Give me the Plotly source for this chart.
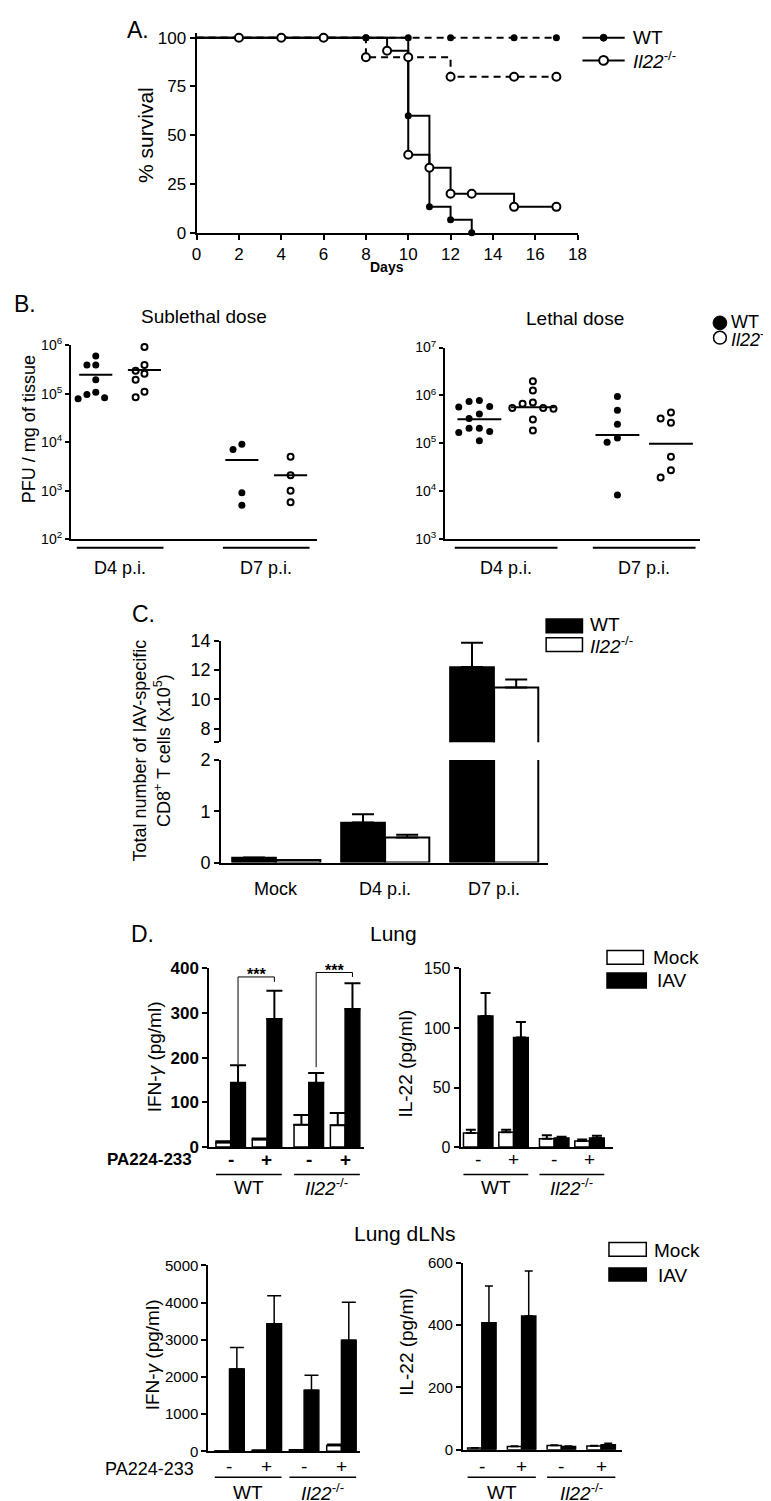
import numpy as np
import plotly.graph_objects as go

W, H = 771, 1501
FONT = "Liberation Sans, Arial, Helvetica, sans-serif"

# ======================= DATA =======================
# ---- Panel A: Kaplan-Meier survival (% survival vs days)
a_wt_sub_days = [0, 8, 10, 12, 15, 17]
a_wt_sub_surv = [100, 100, 100, 100, 100, 100]
a_ko_sub_days = [0, 8, 10, 12, 15, 17]
a_ko_sub_surv = [100, 90, 90, 80, 80, 80]
a_wt_let_days = [0, 8, 10, 11, 12, 13]
a_wt_let_surv = [100, 100, 60, 13.3, 6.7, 0]
a_ko_let_days = [0, 2, 4, 6, 9, 10, 11, 12, 13, 15, 17]
a_ko_let_surv = [100, 100, 100, 100, 93.3, 40, 33.3, 20, 20, 13.3, 13.3]
a_day_ticks = [0, 2, 4, 6, 8, 10, 12, 14, 16, 18]
a_surv_ticks = [0, 25, 50, 75, 100]

# ---- Panel B: PFU / mg of tissue
b_group_labels = ["D4 p.i.", "D7 p.i."]
b_sub_wt_d4 = [6.0e5, 3.9e5, 3.9e5, 1.95e5, 1.07e5, 9.7e4, 8.3e4, 7.9e4]
b_sub_ko_d4 = [9.2e5, 3.9e5, 2.97e5, 2.6e5, 1.95e5, 1.1e5, 8.5e4]
b_sub_wt_d7 = [9.1e3, 7.1e3, 9.1e2, 5.0e2]
b_sub_ko_d7 = [5.0e3, 2.1e3, 1.0e3, 5.8e2]
b_sub_means = [2.46e5, 3.1e5, 4.3e3, 2.1e3]
b_let_wt_d4 = [7.9e5, 7.5e5, 5.9e5, 5.75e5, 4.1e5, 3.3e5, 2.07e5, 2.07e5, 1.77e5, 1.68e5, 1.13e5]
b_let_ko_d4 = [1.97e6, 1.27e6, 7.1e5, 6.7e5, 5.5e5, 5.5e5, 5.3e5, 3.16e5, 1.85e5]
b_let_wt_d7 = [9.5e5, 4.9e5, 2.5e5, 1.29e5, 1.06e5, 8.4e3]
b_let_ko_d7 = [4.4e5, 3.3e5, 2.7e5, 5.25e4, 2.75e4, 1.95e4]
b_let_means = [3.2e5, 5.66e5, 1.5e5, 9.8e4]

# ---- Panel C: IAV-specific CD8+ T cells (x10^5)
c_groups = ["Mock", "D4 p.i.", "D7 p.i."]
c_wt = [0.10, 0.78, 12.2]
c_wt_err = [0.0, 0.16, 1.65]
c_ko = [0.05, 0.49, 10.8]
c_ko_err = [0.0, 0.055, 0.55]

# ---- Panel D: cytokines (pg/ml); order: WT -, WT +, Il22 -, Il22 +
d_treat = ["-", "+", "-", "+"]
d_geno = ["WT", "<i>Il22</i><sup>-/-</sup>"]
lung_ifn_mock = [10, 17, 50, 49]
lung_ifn_mock_err = [3, 2, 22, 27]
lung_ifn_iav = [144, 287, 144, 309]
lung_ifn_iav_err = [39, 63, 22, 58]
lung_sig_low = [186, 179]
lung_sig_high = [381, 391]
lung_sig_tick = [370, 381]
lung_il22_mock = [11.9, 12.4, 6.9, 5.0]
lung_il22_mock_err = [2.7, 2.2, 3.0, 1.4]
lung_il22_iav = [110, 92, 7.7, 7.7]
lung_il22_iav_err = [19.3, 13, 0.9, 1.7]
dln_ifn_mock = [10, 30, 40, 160]
dln_ifn_mock_err = [0, 0, 0, 30]
dln_ifn_iav = [2212, 3434, 1646, 2991]
dln_ifn_iav_err = [584, 752, 398, 1018]
dln_il22_mock = [5, 10, 13, 12]
dln_il22_mock_err = [1, 2, 2, 1]
dln_il22_iav = [408, 429, 10, 16]
dln_il22_iav_err = [118, 145, 2, 5]

# ======================= HELPERS =======================
fig = go.Figure()
layout = dict(width=W, height=H, margin=dict(l=0, r=0, t=0, b=0),
              paper_bgcolor="white", plot_bgcolor="white", showlegend=False,
              barmode="overlay", font=dict(family=FONT, color="black", size=16))
annotations, shapes = [], []


def X(px):
    return px / W


def Y(py):
    return 1 - py / H


def ann(x, y, s, size=17, xa="center", ya="middle", angle=0, xref="paper", yref="paper", yshift=0):
    annotations.append(dict(
        x=X(x) if xref == "paper" else x, y=Y(y) if yref == "paper" else y,
        xref=xref, yref=yref, text=s, showarrow=False, xanchor=xa, yanchor=ya,
        textangle=angle, yshift=yshift, font=dict(family=FONT, size=size, color="black")))


def seg(x0, y0, x1, y1, width=2, xref="paper", yref="paper", dash=None):
    shapes.append(dict(
        type="line", xref=xref, yref=yref,
        x0=X(x0) if xref == "paper" else x0, x1=X(x1) if xref == "paper" else x1,
        y0=Y(y0) if yref == "paper" else y0, y1=Y(y1) if yref == "paper" else y1,
        line=dict(color="black", width=width, dash=dash)))


def circle(cx, cy, r, fill, lw=2):
    shapes.append(dict(type="circle", xref="paper", yref="paper",
                       x0=X(cx - r), x1=X(cx + r), y0=Y(cy + r), y1=Y(cy - r),
                       fillcolor=fill, line=dict(color="black", width=lw)))


def rect(x0, y0, x1, y1, fill, lw=1.5):
    shapes.append(dict(type="rect", xref="paper", yref="paper",
                       x0=X(x0), x1=X(x1), y0=Y(y1), y1=Y(y0),
                       fillcolor=fill, line=dict(color="black", width=lw)))


AXLINE = dict(showline=True, linecolor="black", linewidth=2, showgrid=False,
              zeroline=False, fixedrange=True)
TICKS = dict(ticks="outside", tickcolor="black", tickwidth=2, ticklen=5)


def tf(size=16):
    return dict(family=FONT, size=size, color="black")


# ======================= PANEL A =======================
layout["xaxis"] = dict(domain=[X(187), X(575)], range=[0, 18], anchor="y",
                       tickvals=a_day_ticks, tickfont=tf(17), **AXLINE, **TICKS)
layout["yaxis"] = dict(domain=[Y(217.7), Y(15)], range=[0, 102.5], anchor="x",
                       tickvals=a_surv_ticks, tickfont=tf(17), **AXLINE, **TICKS)

for days, surv, dash in [(a_wt_sub_days, a_wt_sub_surv, "7px,5px"),
                         (a_ko_sub_days, a_ko_sub_surv, "7px,5px"),
                         (a_wt_let_days, a_wt_let_surv, "solid"),
                         (a_ko_let_days, a_ko_let_surv, "solid")]:
    fig.add_trace(go.Scatter(x=days, y=surv, mode="lines", xaxis="x", yaxis="y",
                             line=dict(shape="hv", color="black", width=2, dash=dash),
                             hoverinfo="skip"))
for days, surv in [(a_wt_sub_days, a_wt_sub_surv), (a_wt_let_days, a_wt_let_surv)]:
    fig.add_trace(go.Scatter(x=days[1:], y=surv[1:], mode="markers", xaxis="x", yaxis="y",
                             cliponaxis=False, marker=dict(color="black", size=7)))
for days, surv in [(a_ko_sub_days, a_ko_sub_surv), (a_ko_let_days, a_ko_let_surv)]:
    fig.add_trace(go.Scatter(x=days[1:], y=surv[1:], mode="markers", xaxis="x", yaxis="y",
                             cliponaxis=False,
                             marker=dict(color="white", size=8, line=dict(color="black", width=2))))

ann(127, 12, "A.", size=23)
ann(135, 119, "% survival", size=21, angle=-90)
ann(381, 252, "<b>Days</b>", size=14)
# legend A
seg(580, 20, 623, 20, width=2)
circle(601.5, 20, 3.5, "black", lw=1)
seg(580, 43, 623, 43, width=2)
circle(601.5, 43, 4.5, "white", lw=2)
ann(629, 20, "WT", size=19, xa="left")
ann(629, 43, "<i>Il22</i><sup>-/-</sup>", size=19, xa="left")


# ======================= PANEL B =======================
def swarm(values, decade_px, unit_px, step_px=10.0, dia_px=7.5):
    order = sorted(range(len(values)), key=lambda i: -values[i])
    placed, offs = [], [0.0] * len(values)
    for i in order:
        ypx = np.log10(values[i]) * decade_px
        xo = 0.0
        for k in [0, -1, 1, -2, 2, -3, 3]:
            xo = k * step_px
            if all((xo - px) ** 2 + (ypx - py) ** 2 >= dia_px ** 2 for px, py in placed):
                break
        placed.append((xo, ypx))
        offs[i] = xo / unit_px
    return offs


def b_panel(n, xpx, ypx, pos, p0px, unit, decade_px, yr, groups, means, mean_hw, step_px):
    sx = str(n)
    xr = [pos[0] + (xpx[0] - p0px) / unit, pos[0] + (xpx[1] - p0px) / unit]
    layout["xaxis" + sx] = dict(domain=[X(xpx[0]), X(xpx[1])], range=xr, anchor="y" + sx,
                                ticks="", showticklabels=False, **AXLINE)
    tv = [10 ** k for k in range(yr[0], yr[1] + 1)]
    tt = [f"10<sup>{k}</sup>" for k in range(yr[0], yr[1] + 1)]
    layout["yaxis" + sx] = dict(domain=[Y(ypx[1]), Y(ypx[0])], range=list(yr), type="log",
                                anchor="x" + sx, tickvals=tv, ticktext=tt, tickfont=tf(14),
                                showline=True, linecolor="black", linewidth=2, showgrid=False,
                                zeroline=False, ticks="outside", tickcolor="black",
                                tickwidth=2, ticklen=4)
    for gi, vals in enumerate(groups):
        offs = swarm(vals, decade_px, unit, step_px=step_px)
        xs = [pos[gi] + o for o in offs]
        filled = gi % 2 == 0
        mk = (dict(color="black", size=7) if filled else
              dict(color="white", size=6, line=dict(color="black", width=2)))
        fig.add_trace(go.Scatter(x=xs, y=vals, mode="markers", marker=mk, cliponaxis=False,
                                 xaxis="x" + sx, yaxis="y" + sx))
    mx, my = [], []
    for gi, m in enumerate(means):
        mx += [pos[gi] - mean_hw, pos[gi] + mean_hw, None]
        my += [m, m, None]
    fig.add_trace(go.Scatter(x=mx, y=my, mode="lines", line=dict(color="black", width=2),
                             xaxis="x" + sx, yaxis="y" + sx))
    for k, lab in enumerate(b_group_labels):
        a, b = pos[2 * k] - mean_hw - 0.05, pos[2 * k + 1] + mean_hw + 0.05
        seg(a, 537, b, 537, width=2, xref="x" + sx)
        ann((pos[2 * k] + pos[2 * k + 1]) / 2, 557, lab, size=18, xref="x" + sx)


b_panel(2, (59, 310), (331.7, 528.3), [1, 2, 4, 5], 84.3, 49.6, 49.15, (2, 6),
        [b_sub_wt_d4, b_sub_ko_d4, b_sub_wt_d7, b_sub_ko_d7], b_sub_means, 0.34, 9.0)
b_panel(3, (440, 700), (334, 528.3), [1, 2, 3.58, 4.58], 475, 54.5, 48.6, (3, 7),
        [b_let_wt_d4, b_let_ko_d4, b_let_wt_d7, b_let_ko_d7], b_let_means, 0.41, 10.5)

ann(12, 290, "B.", size=23)
ann(195, 303, "Sublethal dose", size=19)
ann(572, 305, "Lethal dose", size=19)
ann(17, 417, "PFU / mg of tissue", size=18, angle=-90)
circle(720, 309, 7, "black", lw=1)
circle(720, 324, 6.5, "white", lw=1.5)
ann(729, 308, "WT", size=18, xa="left")
ann(729, 325, "<i>Il22</i><sup>-/-</sup>", size=18, xa="left")

# ======================= PANEL C =======================
c_pos = list(range(len(c_groups)))
c_unit, c_p0 = 111.0, 268.0
c_xr = [(212 - c_p0) / c_unit, (545 - c_p0) / c_unit]
c_w = 45 / c_unit
layout["xaxis4"] = dict(domain=[X(212), X(545)], range=c_xr, anchor="y4", visible=False,
                        fixedrange=True)
layout["xaxis5"] = dict(domain=[X(212), X(545)], range=c_xr, anchor="y5", ticks="",
                        showticklabels=False, **AXLINE)
layout["yaxis4"] = dict(domain=[Y(734), Y(631)], range=[7.08, 14], anchor="x4",
                        tickvals=[7.08, 8, 10, 12, 14], ticktext=["", "8", "10", "12", "14"],
                        tickfont=tf(18), **AXLINE, **TICKS)
layout["yaxis5"] = dict(domain=[Y(856), Y(752)], range=[0, 2], anchor="x5",
                        tickvals=[0, 1, 2], tickfont=tf(18), **AXLINE, **TICKS)


def cerr(arr, cap):
    return dict(type="data", array=arr, arrayminus=[0] * len(arr), symmetric=False,
                color="black", thickness=2, width=cap)


for xa, ya in [("x4", "y4"), ("x5", "y5")]:
    fig.add_trace(go.Bar(x=c_pos, y=c_wt, width=c_w, offset=-c_w, xaxis=xa, yaxis=ya,
                         marker=dict(color="black", line=dict(color="black", width=1.5)),
                         error_y=cerr(c_wt_err, 11)))
    fig.add_trace(go.Bar(x=c_pos, y=c_ko, width=c_w, offset=0, xaxis=xa, yaxis=ya,
                         marker=dict(color="white", line=dict(color="black", width=2)),
                         error_y=cerr(c_ko_err, 11)))
for p, g in zip(c_pos, c_groups):
    ann(p, 883, g, size=18, xref="x5")
ann(133, 604, "C.", size=23)
ann(141, 742, "Total number of IAV-specific<br>CD8<sup>+</sup> T cells (x10<sup>5</sup>)",
    size=18, angle=-90)
rect(543, 609, 580, 623, "black")
rect(543, 628, 580, 642, "white")
ann(586, 615, "WT", size=19, xa="left")
ann(586, 635, "<i>Il22</i><sup>-/-</sup>", size=19, xa="left")


# ======================= PANEL D =======================
def d_panel(n, xpx, ypx, pos, p0px, unit, wpx, ymax, ystep, mock, mock_err, iav, iav_err,
            cap, errw, bold, pm_y, ul_y, geno_y, tick_size):
    sx = str(n)
    w = wpx / unit
    xr = [(xpx[0] - p0px) / unit, (xpx[1] - p0px) / unit]
    layout["xaxis" + sx] = dict(domain=[X(xpx[0]), X(xpx[1])], range=xr, anchor="y" + sx,
                                ticks="", showticklabels=False, **AXLINE)
    tv = list(range(0, ymax + 1, ystep))
    tt = [f"<b>{v}</b>" if bold else str(v) for v in tv]
    layout["yaxis" + sx] = dict(domain=[Y(ypx[1]), Y(ypx[0])], range=[0, ymax],
                                anchor="x" + sx, tickvals=tv, ticktext=tt,
                                tickfont=tf(tick_size), **AXLINE, **TICKS)

    def err(arr):
        return dict(type="data", array=arr, arrayminus=[0] * len(arr), symmetric=False,
                    color="black", thickness=errw, width=cap)

    fig.add_trace(go.Bar(x=pos, y=mock, width=w, offset=-w, xaxis="x" + sx, yaxis="y" + sx,
                         marker=dict(color="white", line=dict(color="black", width=1.5)),
                         error_y=err(mock_err)))
    fig.add_trace(go.Bar(x=pos, y=iav, width=w, offset=0, xaxis="x" + sx, yaxis="y" + sx,
                         marker=dict(color="black", line=dict(color="black", width=1.5)),
                         error_y=err(iav_err)))
    for p, t in zip(pos, d_treat):
        ann(p, pm_y, f"<b>{t}</b>" if bold else t, size=19, xref="x" + sx)
    for g in range(2):
        a, b = pos[2 * g] - w, pos[2 * g + 1] + w
        seg(a, ul_y, b, ul_y, width=1.5, xref="x" + sx)
        ann((a + b) / 2, geno_y, d_geno[g], size=19, xref="x" + sx)
    return w


lung_pos = [0, 1, 2.15, 3.15]
dln_pos = [0, 1, 2, 3]
w6 = d_panel(6, (200, 358), (963.3, 1144.3), lung_pos, 221.7, 37, 15, 400, 100,
             lung_ifn_mock, lung_ifn_mock_err, lung_ifn_iav, lung_ifn_iav_err,
             8, 2, True, 1157, 1172, 1185, 17)
d_panel(7, (456, 610.7), (963.3, 1144.3), lung_pos, 473.8, 36, 15, 150, 50,
        lung_il22_mock, lung_il22_mock_err, lung_il22_iav, lung_il22_iav_err,
        5, 2, False, 1157, 1172, 1185, 16)
d_panel(8, (199, 353), (1264.3, 1452.7), dln_pos, 220.5, 38, 15, 5000, 1000,
        dln_ifn_mock, dln_ifn_mock_err, dln_ifn_iav, dln_ifn_iav_err,
        7, 1.5, False, 1468, 1479, 1494, 15)
d_panel(9, (458.3, 620.7), (1261.7, 1451), dln_pos, 477.5, 40.5, 14.5, 600, 200,
        dln_il22_mock, dln_il22_mock_err, dln_il22_iav, dln_il22_iav_err,
        4, 1.5, False, 1468, 1479, 1494, 15)

# significance brackets (lung IFN)
for k in range(2):
    xl = lung_pos[2 * k] + w6 / 2
    xr_ = lung_pos[2 * k + 1] + w6 / 2
    seg(xl, lung_sig_low[k], xl, lung_sig_high[k], width=1, xref="x6", yref="y6")
    seg(xl, lung_sig_high[k], xr_, lung_sig_high[k], width=1, xref="x6", yref="y6")
    seg(xr_, lung_sig_high[k], xr_, lung_sig_tick[k], width=1, xref="x6", yref="y6")
    ann((xl + xr_) / 2, lung_sig_high[k], "<b>***</b>", size=16, xref="x6", yref="y6",
        ya="middle", yshift=2)

ann(132, 928, "D.", size=23)
ann(388, 928, "Lung", size=21)
ann(399, 1232, "Lung dLNs", size=21)
ann(145, 1053, "IFN-<i>γ</i> (pg/ml)", size=19, angle=-90)
ann(400, 1060, "IL-22 (pg/ml)", size=19, angle=-90)
ann(143, 1355, "IFN-<i>γ</i> (pg/ml)", size=19, angle=-90)
ann(400, 1342, "IL-22 (pg/ml)", size=19, angle=-90)
ann(184, 1157, "<b>PA224-233</b>", size=17, xa="right")
ann(186, 1471, "PA224-233", size=18, xa="right")
# legends D
rect(605, 945, 642, 959, "white")
rect(605, 968, 645, 983, "black")
ann(650, 952, "Mock", size=19, xa="left")
ann(654, 976, "IAV", size=19, xa="left")
rect(607, 1241, 645, 1255, "white")
rect(607, 1267, 645, 1280, "black")
ann(651, 1249, "Mock", size=19, xa="left")
ann(655, 1274, "IAV", size=19, xa="left")

layout["annotations"] = annotations
layout["shapes"] = shapes
fig.update_layout(**layout)
fig.update_traces(hoverinfo="skip", selector=dict(type="bar"))
fig.write_html("out.html")
